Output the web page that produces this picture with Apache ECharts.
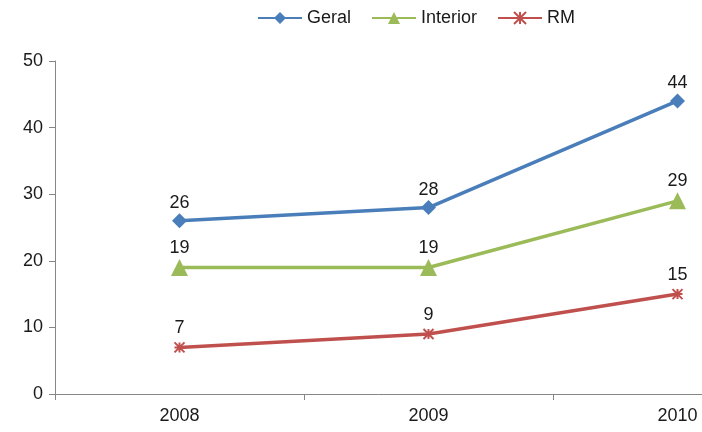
<!DOCTYPE html>
<html>
<head>
<meta charset="utf-8">
<script src="https://cdn.jsdelivr.net/npm/echarts@6/dist/echarts.min.js"></script>
<style>
  html, body { margin: 0; padding: 0; background: #fff; }
  #chart { width: 702px; height: 432px; }
</style>
</head>
<body>
<div id="chart"></div>
<script>
var years = ["2008", "2009", "2010"];
var geral = [26, 28, 44];
var interior = [19, 19, 29];
var rm = [7, 9, 15];
var yTicks = { min: 0, max: 50, interval: 10 };

var font = "Liberation Sans";
var chart = echarts.init(document.getElementById("chart"));

function lineSeries(name, data, color, symbol, size, dist, extra) {
  var s = {
    name: name,
    type: "line",
    data: data,
    symbol: symbol,
    symbolSize: size,
    showAllSymbol: true,
    lineStyle: { color: color, width: 3.5 },
    itemStyle: { color: color },
    label: {
      show: true,
      position: "top",
      distance: dist,
      color: "#1a1a1a",
      fontSize: 18,
      fontFamily: font
    },
    animation: false
  };
  if (extra) {
    s.itemStyle = Object.assign(s.itemStyle, extra);
  }
  return s;
}

chart.setOption({
  backgroundColor: "#fff",
  legend: {
    left: 252,
    top: 4,
    itemWidth: 44,
    itemHeight: 15,
    itemGap: 20,
    textStyle: { fontSize: 18, color: "#1a1a1a", fontFamily: font }
  },
  grid: {
    left: 55,
    top: 61,
    width: 747,
    height: 333,
    outerBoundsMode: "none",
    containLabel: false
  },
  xAxis: {
    type: "category",
    data: years,
    boundaryGap: true,
    axisLine: { lineStyle: { color: "#868686", width: 1 } },
    axisTick: { show: true, inside: false, length: 6, lineStyle: { color: "#868686" } },
    axisLabel: { fontSize: 18, color: "#1a1a1a", fontFamily: font, margin: 13 },
    splitLine: { show: false }
  },
  yAxis: {
    type: "value",
    min: yTicks.min,
    max: yTicks.max,
    interval: yTicks.interval,
    axisLine: { show: true, lineStyle: { color: "#868686", width: 1 } },
    axisTick: { show: true, length: 6, lineStyle: { color: "#868686" } },
    axisLabel: { fontSize: 18, color: "#1a1a1a", fontFamily: font, margin: 12 },
    splitLine: { show: false }
  },
  series: [
    lineSeries("Geral", geral, "#4A7EBB", "diamond", 15, 1),
    lineSeries("Interior", interior, "#9BBB59", "triangle", 17, 2),
    lineSeries("RM", rm, "#C0504D",
      "path://M0,0L10,10M10,0L0,10M5,0L5,10M0,5L10,5", 10, 4,
      { borderColor: "#C0504D", borderWidth: 2 })
  ]
});
</script>
</body>
</html>
